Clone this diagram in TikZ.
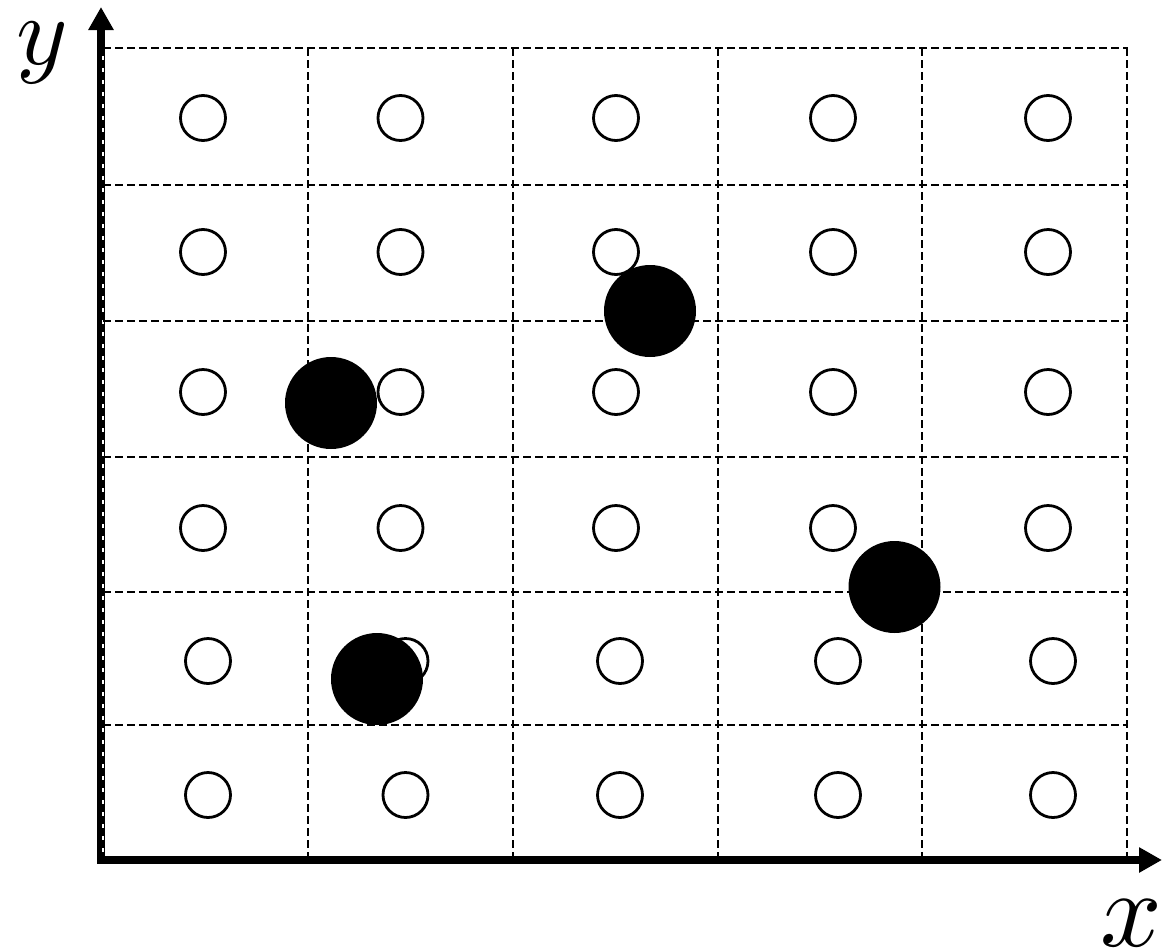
\documentclass[tikz,border=0pt]{standalone}
\usepackage{graphicx}
\usetikzlibrary{arrows.meta}
\begin{document}
\begin{tikzpicture}[x=1pt,y=-1pt,
  gridline/.style={line width=2.4pt, dash pattern=on 8pt off 4pt},
  gridunder/.style={white, line width=2.4pt},
  site/.style={circle, draw=black, line width=2.8pt, fill=white, minimum size=45pt, inner sep=0pt},
  particle/.style={circle, fill=black, minimum size=92pt, inner sep=0pt},
  axis/.style={line width=8.5pt, line join=miter, {Triangle[length=23pt,width=24pt]}-{Triangle[length=23pt,width=24pt]}},
  axislabel/.style={anchor=base, inner sep=0pt}]
\useasboundingbox (0,0) rectangle (1176,951);

% axes
\coordinate (ytip) at (101,7);
\coordinate (origin) at (101,860);
\coordinate (xtip) at (1162,860);
\draw[axis] (ytip) -- (origin) -- (xtip);

% grid
\draw[gridunder] (103,48) -- (103,856);
\draw[gridline] (103,48) -- (103,856);
\foreach \gx in {308,513,718,922,1127}
  \draw[gridline] (\gx,48) -- (\gx,856);
\foreach \gy in {48,185,321,457,592,725}
  \draw[gridline] (103,\gy) -- (1128,\gy);

% lattice sites
\foreach \ry [count=\r] in {118,252,392,528}
  \foreach \cx [count=\c] in {203,400.5,616,833,1048}
    \node[site] (s\r\c) at (\cx,\ry) {};
\foreach \ry [count=\r from 5] in {661,795}
  \foreach \cx [count=\c] in {208,405.5,620,838,1053}
    \node[site] (s\r\c) at (\cx,\ry) {};

% particles
\node[particle] (p1) at (331,403) {};
\node[particle] (p2) at (650,311) {};
\node[particle] (p3) at (894.5,587) {};
\node[particle] (p4) at (377,679) {};

% labels
\node[axislabel] (ylabel) at (42,64) {\scalebox{9.8}{$y$}};
\node[axislabel] (xlabel) at (1131,946) {\scalebox{10.8}{$x$}};
\end{tikzpicture}
\end{document}
